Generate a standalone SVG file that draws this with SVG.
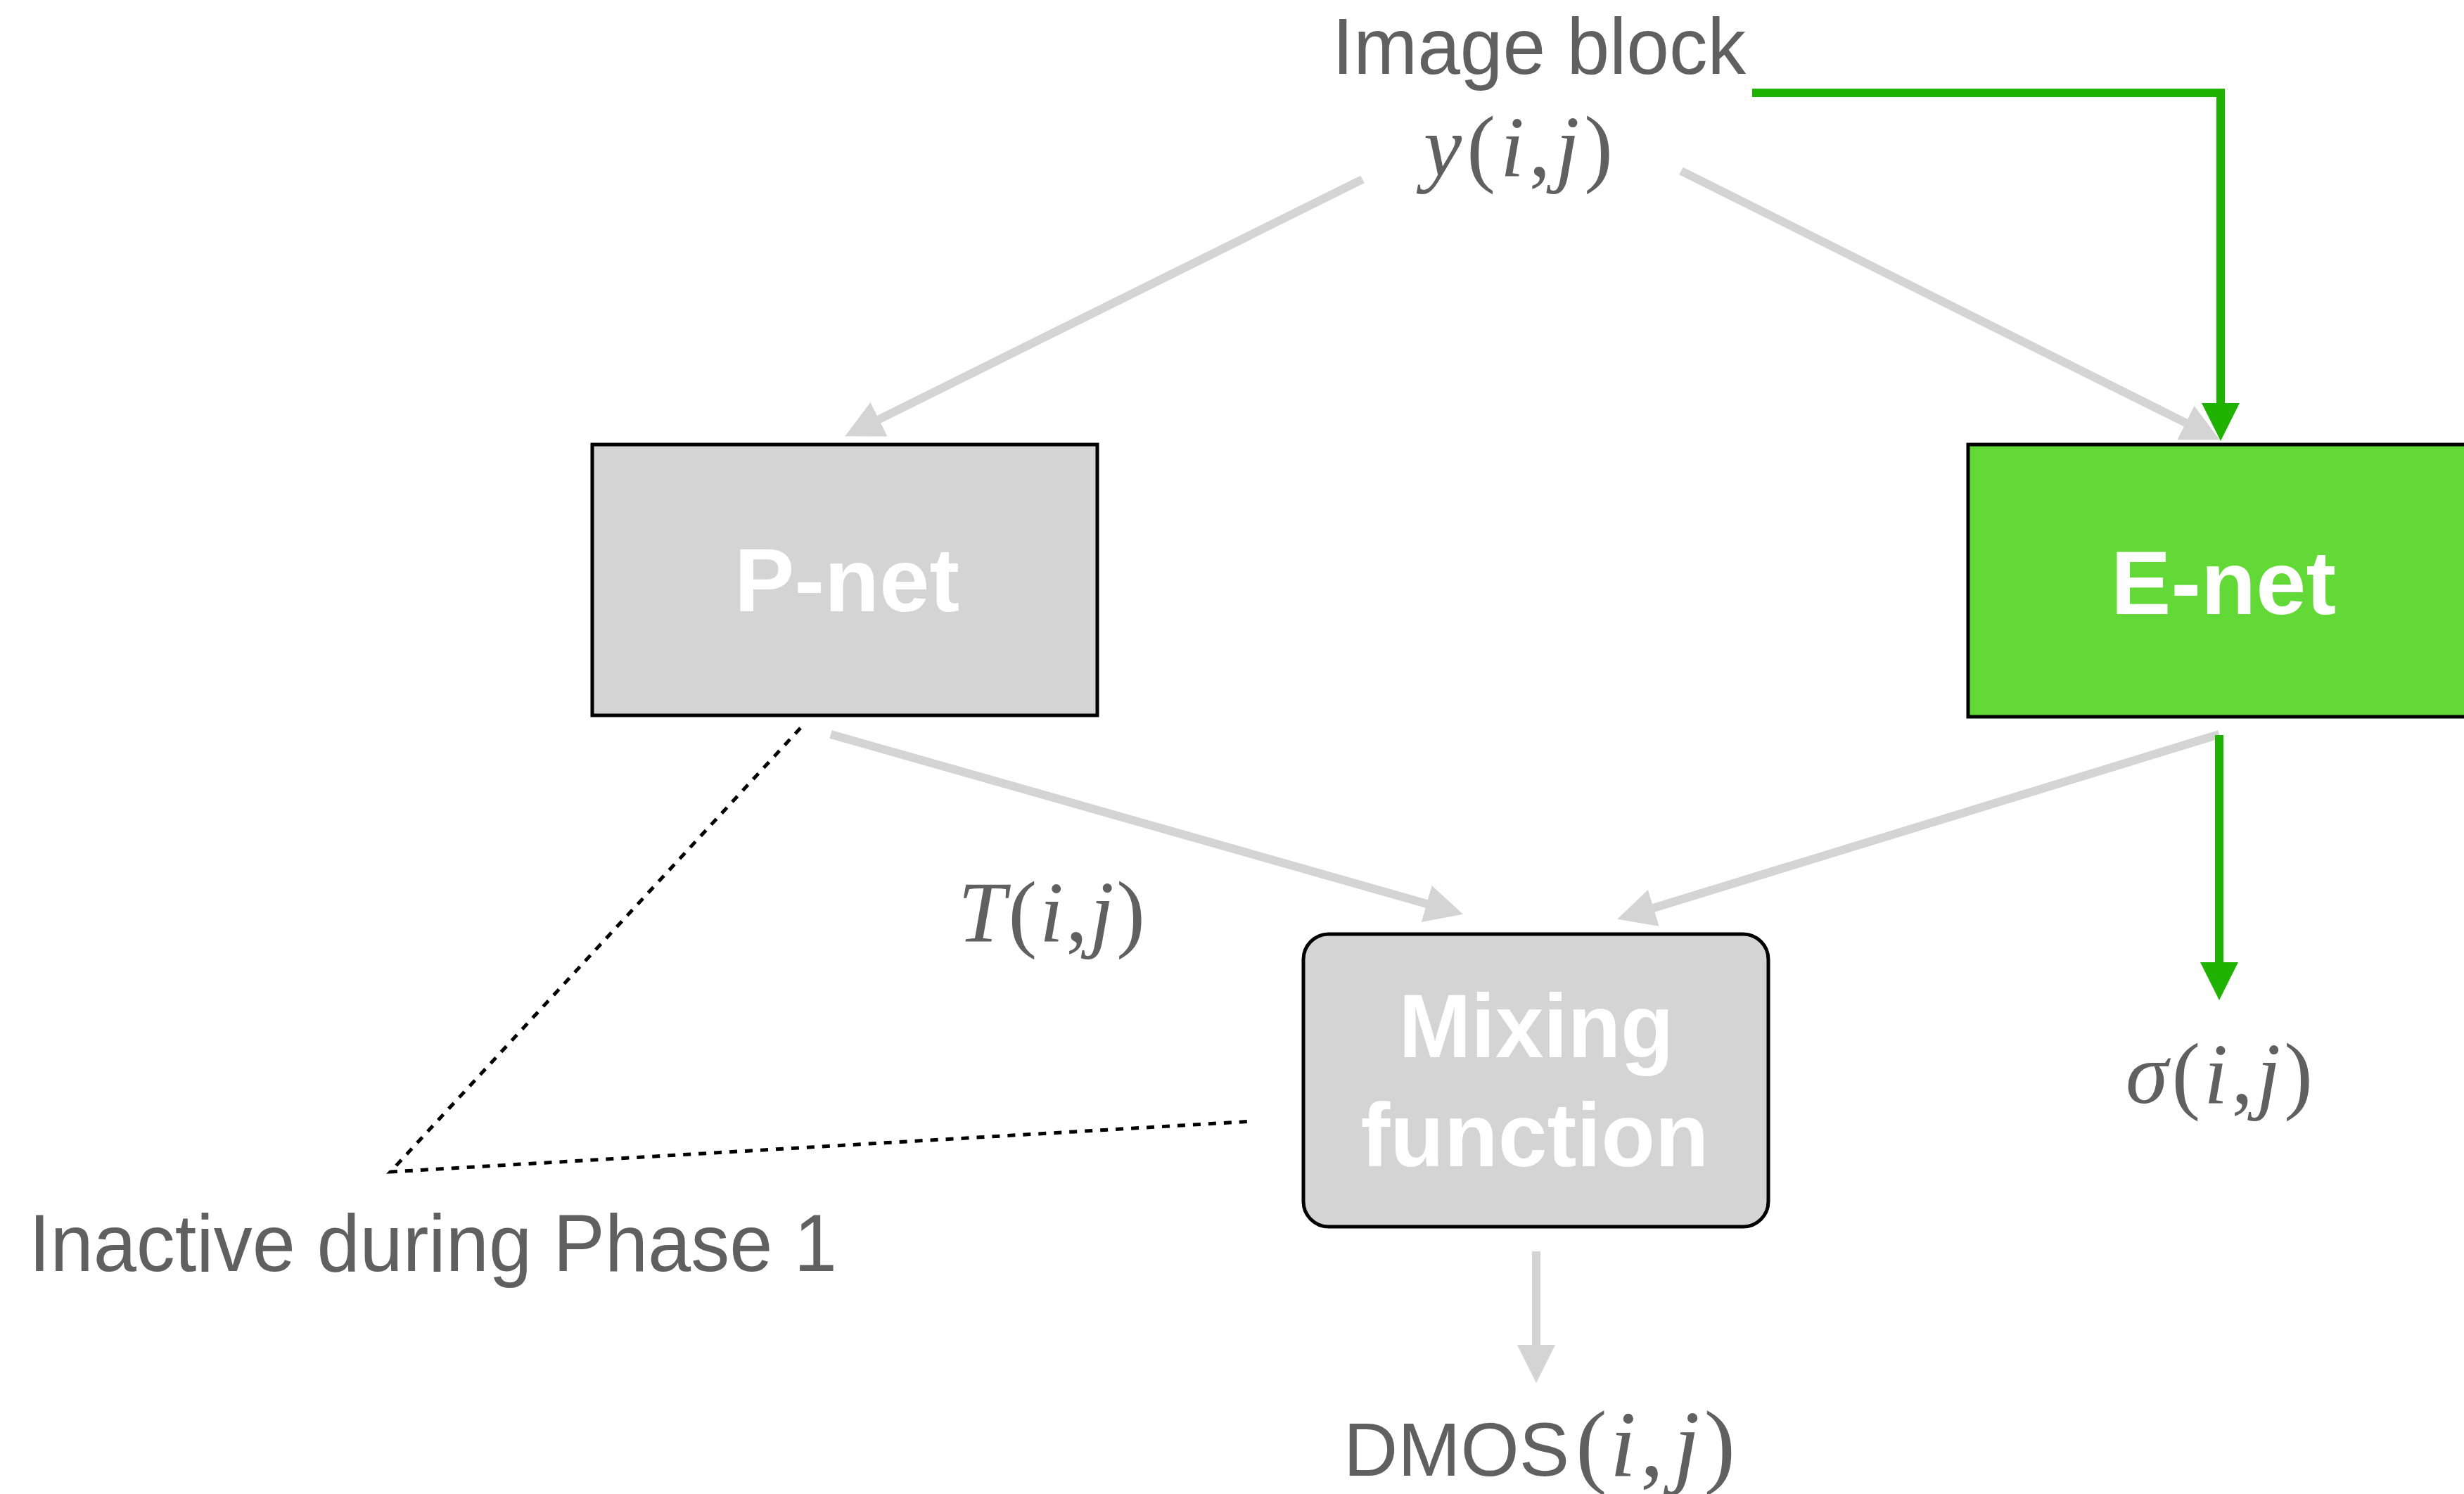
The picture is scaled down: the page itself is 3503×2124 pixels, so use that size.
<svg xmlns="http://www.w3.org/2000/svg" width="3503" height="2124" viewBox="0 0 3503 2124">
<style>
.lbl{font-family:"Liberation Sans",Arial,sans-serif;fill:#606060;}
.math{font-family:"Liberation Serif","Times New Roman",serif;fill:#606060;}
.it{font-style:italic;}
.node{font-family:"Liberation Sans",Arial,sans-serif;font-weight:bold;fill:#ffffff;font-size:128px;}
.gray{stroke:#d4d4d4;stroke-width:12;fill:none;}
.green{stroke:#20b200;stroke-width:12;fill:none;stroke-linejoin:miter;}
.dot{stroke:#000;stroke-width:5;fill:none;stroke-dasharray:11 11;}
.box{stroke:#000;stroke-width:5;}
</style>
<defs>
<marker id="ag" markerUnits="userSpaceOnUse" markerWidth="54" markerHeight="54" viewBox="0 0 54 54" refX="4" refY="27" orient="auto"><path d="M0,0 L54,27 L0,54 z" fill="#d4d4d4"/></marker>
<marker id="agr" markerUnits="userSpaceOnUse" markerWidth="54" markerHeight="54" viewBox="0 0 54 54" refX="4" refY="27" orient="auto"><path d="M0,0 L54,27 L0,54 z" fill="#20b200"/></marker>
</defs>
<rect width="3503" height="2124" fill="#fff"/>
<g id="connectors">
<line class="gray" x1="1937" y1="255" x2="1246" y2="598" marker-end="url(#ag)"/>
<line class="gray" x1="2390" y1="243" x2="3111" y2="603" marker-end="url(#ag)"/>
<path class="green" d="M2491,132 H3157 V577" marker-end="url(#agr)"/>
<line class="gray" x1="1181" y1="1044" x2="2032" y2="1286" marker-end="url(#ag)"/>
<line class="gray" x1="3155" y1="1044" x2="2347" y2="1292" marker-end="url(#ag)"/>
<line class="green" x1="3155" y1="1045" x2="3155" y2="1372" marker-end="url(#agr)"/>
<line class="gray" x1="2184" y1="1779" x2="2184" y2="1916" marker-end="url(#ag)"/>
<polyline class="dot" points="1138,1035 555,1666 1782,1594"/>
</g>
<g id="image-block">
<text class="lbl" x="1894" y="105" font-size="114" textLength="588" lengthAdjust="spacingAndGlyphs">Image block</text>
<text class="math" x="2024" y="250" font-size="122" textLength="269" lengthAdjust="spacing"><tspan class="it">y</tspan>(<tspan class="it">i</tspan>,<tspan class="it">j</tspan>)</text>
</g>
<g id="p-net">
<rect class="box" x="842" y="632" width="718" height="385" fill="#d4d4d4"/>
<text class="node" x="1204" y="869" text-anchor="middle">P-net</text>
</g>
<g id="e-net">
<rect class="box" x="2798" y="632" width="730" height="387" fill="#62d937"/>
<text class="node" x="3161" y="873" text-anchor="middle">E-net</text>
</g>
<g id="mixing-function">
<rect class="box" x="1853" y="1328" width="661" height="416" rx="36" ry="36" fill="#d4d4d4"/>
<text class="node" x="2184" y="1503" text-anchor="middle" textLength="391" lengthAdjust="spacingAndGlyphs">Mixing</text>
<text class="node" x="2182" y="1658" text-anchor="middle" textLength="495" lengthAdjust="spacingAndGlyphs">function</text>
</g>
<g id="t-label">
<text class="math" x="1362" y="1338" font-size="122" textLength="266" lengthAdjust="spacing"><tspan class="it">T</tspan>(<tspan class="it">i</tspan>,<tspan class="it">j</tspan>)</text>
</g>
<g id="sigma-label">
<text class="math" x="3022" y="1568" font-size="122" textLength="266" lengthAdjust="spacing"><tspan class="it">σ</tspan>(<tspan class="it">i</tspan>,<tspan class="it">j</tspan>)</text>
</g>
<g id="dmos-label">
<text x="1910" y="2098"><tspan class="lbl" font-size="107">DMOS</tspan><tspan class="math" x="2240" font-size="134" dx="0">(</tspan><tspan class="math it" font-size="134" dx="4">i</tspan><tspan class="math" font-size="134" dx="6">,</tspan><tspan class="math it" font-size="134" dx="14">j</tspan><tspan class="math" font-size="134" dx="6">)</tspan></text>
</g>
<g id="inactive-note">
<text class="lbl" x="41" y="1807" font-size="115" textLength="1149" lengthAdjust="spacingAndGlyphs">Inactive during Phase 1</text>
</g>
</svg>
